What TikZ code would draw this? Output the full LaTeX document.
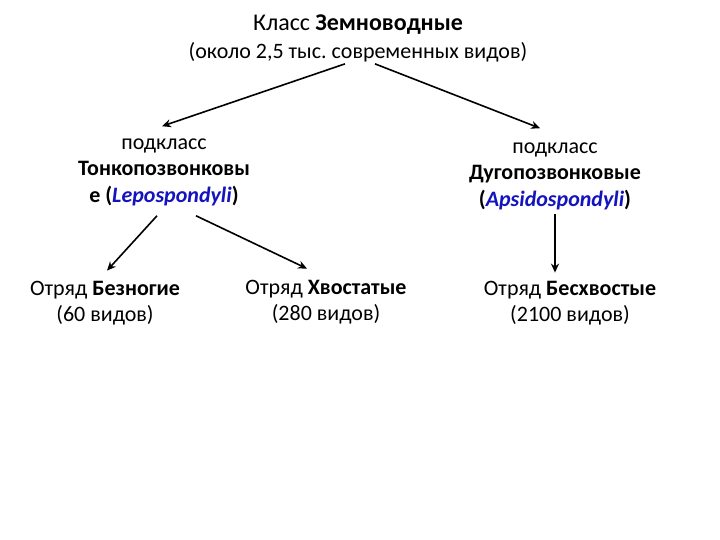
\documentclass[tikz,border=0pt]{standalone}
\usepackage{fontspec}
\setmainfont{Carlito}
\frenchspacing
\usetikzlibrary{arrows.meta,calc}
\definecolor{latblue}{RGB}{20,20,190}
\tikzset{
  txt/.style={align=center,inner sep=0pt,font=\fontsize{22}{26.5}\selectfont},
  arr/.style={draw=black,line width=1.6pt,-{Stealth[length=9pt,width=8pt]}},
}
\newcommand{\lat}[1]{\textcolor{latblue}{\textit{#1}}}
\begin{document}
\begin{tikzpicture}[x=1pt,y=-1pt]
\useasboundingbox[fill=white] (0,0) rectangle (720,540);
\node[txt,font=\fontsize{22}{28}\selectfont] (title) at (358,38) {{\fontsize{24}{28}\selectfont Класс \textbf{Земноводные}}\\(около 2,5 тыс. современных видов)};
\node[txt] (subL) at (164,172) {подкласс\\\textbf{Тонкопозвонковы}\\\textbf{е (\lat{Lepospondyli})}};
\node[txt] (subR) at (555,176) {подкласс\\\textbf{Дугопозвонковые}\\\textbf{(\lat{Apsidospondyli})}};
\node[txt] (bez) at (105,303) {Отряд \textbf{Безногие}\\(60 видов)};
\node[txt] (hv) at (326,302) {Отряд \textbf{Хвостатые}\\(280 видов)};
\node[txt] (bhv) at (570,303) {Отряд \textbf{Бесхвостые}\\(2100 видов)};
\draw[arr] ([shift={(-13,2)}]title.south) -- ([shift={(-2,-12)}]subL.north);
\draw[arr] ([shift={(17,2)}]title.south) -- ([shift={(-15,-14)}]subR.north);
\draw[arr] ([shift={(-7,10)}]subL.south) -- ([shift={(2,-10)}]bez.north);
\draw[arr] ([shift={(32,10)}]subL.south) -- ([shift={(-19,-11)}]hv.north);
\draw[arr] ([shift={(0,4)}]subR.south) -- ([shift={(-15,-8)}]bhv.north);
\end{tikzpicture}
\end{document}
